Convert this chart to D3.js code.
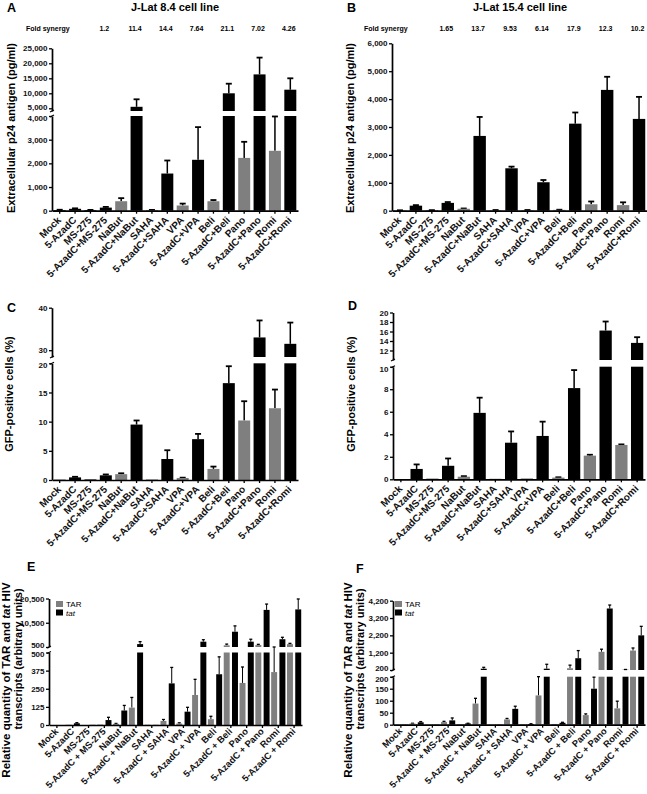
<!DOCTYPE html>
<html><head><meta charset="utf-8">
<script src="https://cdn.jsdelivr.net/npm/d3@7"></script>
<style>
body{margin:0;background:#fff}
svg{display:block}
text{font-family:"Liberation Sans",Arial,Helvetica,sans-serif}
</style>
</head><body>
<svg id="chart" width="647" height="794"></svg>
<script>
// ---------------- DATA ----------------
const categoriesAD = ["Mock","5-AzadC","MS-275","5-AzadC+MS-275","NaBut","5-AzadC+NaBut","SAHA","5-AzadC+SAHA","VPA","5-AzadC+VPA","Beli","5-AzadC+Beli","Pano","5-AzadC+Pano","Romi","5-AzadC+Romi"];
const categoriesEF = ["Mock","5-AzadC","MS-275","5-AzadC + MS-275","NaBut","5-AzadC + NaBut","SAHA","5-AzadC + SAHA","VPA","5-AzadC + VPA","Beli","5-AzadC + Beli","Pano","5-AzadC + Pano","Romi","5-AzadC + Romi"];
const singleHDACi = ["NaBut","SAHA","VPA","Beli","Pano","Romi"];

const p24_JLat84 = [30, 80, 30, 130, 400, 5500, 30, 1570, 220, 2150, 400, 10000, 2230, 16300, 2530, 11200];
const p24_JLat84_err = [10, 20, 5, 30, 130, 2500, 5, 550, 80, 1380, 50, 3200, 680, 5600, 1450, 3800];
const p24_JLat154 = [10, 180, 15, 280, 70, 2680, 20, 1520, 20, 1020, 30, 3120, 230, 4330, 200, 3290];
const p24_JLat154_err = [5, 20, 5, 30, 10, 680, 5, 60, 5, 80, 5, 400, 100, 470, 100, 790];

const gfp_JLat84 = [0.05, 0.45, 0.1, 0.8, 1.0, 9.5, 0.1, 3.6, 0.35, 7.0, 1.9, 16.6, 10.2, 33, 12.3, 31.5];
const gfp_JLat84_err = [0, 0.1, 0, 0.15, 0.15, 0.7, 0, 1.5, 0.05, 0.9, 0.4, 2.9, 3.3, 4, 3.2, 5];
const gfp_JLat154 = [0.02, 0.92, 0.05, 1.2, 0.23, 5.9, 0.05, 3.25, 0.08, 3.85, 0.15, 8.1, 2.1, 16.2, 3.05, 13.6];
const gfp_JLat154_err = [0, 0.4, 0, 0.65, 0.05, 1.35, 0, 1.0, 0, 1.27, 0.03, 1.6, 0.08, 1.9, 0.05, 1.2];

const TAR_JLat84 = [0, 2, 0, 3, 8, 120, 2, 28, 10, 207, 40, 1200, 290, 1300, 365, 1700];
const TAR_JLat84_err = [0, 0, 0, 0, 3, 70, 0, 10, 5, 108, 20, 500, 110, 300, 140, 300];
const tat_JLat84 = [0, 12, 1, 34, 100, 1700, 1, 287, 92, 2700, 350, 6800, 2700, 15800, 3700, 16000];
const tat_JLat84_err = [0, 4, 0, 19, 35, 1000, 0, 110, 30, 800, 120, 2400, 1000, 2400, 800, 4300];

const TAR_JLat154 = [1, 5, 1, 11, 2, 88, 1, 22, 2, 122, 3, 300, 40, 1250, 68, 1320];
const TAR_JLat154_err = [0, 1, 0, 3, 0, 22, 0, 4, 0, 78, 0, 180, 5, 150, 30, 150];
const tat_JLat154 = [1, 10, 1, 18, 5, 275, 1, 66, 3, 275, 8, 880, 150, 3750, 215, 2200];
const tat_JLat154_err = [0, 3, 0, 10, 1, 80, 0, 11, 1, 255, 2, 440, 48, 200, 15, 520];

const combos = ["5-AzadC+MS-275","5-AzadC+NaBut","5-AzadC+SAHA","5-AzadC+VPA","5-AzadC+Beli","5-AzadC+Pano","5-AzadC+Romi"];
const foldSynergy84 = ["1.2","11.4","14.4","7.64","21.1","7.02","4.26"];
const foldSynergy154 = ["1.65","13.7","9.53","6.14","17.9","12.3","10.2"];

const ticksA_low = [0,1000,2000,3000,4000], ticksA_up = [5000,10000,15000,20000,25000];
const ticksB = [0,1000,2000,3000,4000,5000,6000];
const ticksC_low = [0,5,10,15,20], ticksC_up = [30,40];
const ticksD_low = [0,2,4,6,8,10], ticksD_up = [12,14,16,18,20];
const ticksE_low = [0,125,250,375,500], ticksE_up = [500,10500,20500];
const ticksF_low = [0,50,100,150,200], ticksF_up = [200,1200,2200,3200,4200];

// ---------------- DRAWING ----------------
const svg = d3.select("#chart");
const BLACK = "#000", GREY = "#7f7f7f";
const comma = d3.format(",");
const FF = '"Liberation Sans",Arial,sans-serif';

function makePos(seg){
  const lo = d3.scaleLinear().domain(seg.lower.domain).range(seg.lower.range);
  const up = seg.upper ? d3.scaleLinear().domain(seg.upper.domain).range(seg.upper.range) : null;
  const Lmax = seg.lower.domain[1];
  function pos(v){
    if(!up || v <= Lmax) return lo(Math.min(v, Lmax));
    if(v < seg.upper.domain[0]) return lo(Lmax);
    return up(v);
  }
  return {lo, up, pos, Lmax};
}

function drawBar(sc, cx, w, v, fill){
  const base = sc.lo(0);
  const topLo = sc.lo(Math.min(v, sc.Lmax));
  svg.append("rect").attr("x", cx - w/2).attr("y", topLo).attr("width", w)
     .attr("height", Math.max(0, base - topLo)).attr("fill", fill);
  if(sc.up && v > sc.Lmax){
    const y0 = sc.up.range()[0];
    const y1 = sc.up(v);
    svg.append("rect").attr("x", cx - w/2).attr("y", y1).attr("width", w)
       .attr("height", Math.max(0, y0 - y1)).attr("fill", fill);
  }
}
function drawErr(sc, cx, v, e, capW, sw){
  if(!(e > 0)) return;
  const y0 = sc.pos(v), y1 = sc.pos(v + e);
  svg.append("line").attr("x1", cx).attr("x2", cx).attr("y1", y0).attr("y2", y1)
     .attr("stroke", BLACK).attr("stroke-width", sw);
  svg.append("line").attr("x1", cx - capW/2).attr("x2", cx + capW/2).attr("y1", y1).attr("y2", y1)
     .attr("stroke", BLACK).attr("stroke-width", sw + 0.3);
}

function drawYAxis(sc, x0, tl, tu, fmt){
  const g1 = svg.append("g").attr("transform", `translate(${x0},0)`)
    .call(d3.axisLeft(sc.lo).tickValues(tl).tickFormat(fmt).tickSize(3).tickSizeOuter(0));
  const gs = [g1];
  if(sc.up){
    const g2 = svg.append("g").attr("transform", `translate(${x0},0)`)
      .call(d3.axisLeft(sc.up).tickValues(tu).tickFormat(fmt).tickSize(3).tickSizeOuter(0));
    gs.push(g2);
    const yb1 = sc.lo.range()[1], yb2 = sc.up.range()[0];
    [yb1, yb2].forEach(y => {
      svg.append("line").attr("x1", x0 - 2).attr("x2", x0 + 2).attr("y1", y + 1).attr("y2", y - 1)
        .attr("stroke", BLACK).attr("stroke-width", 1.2);
    });
    g1.selectAll(".tick text").filter(d => d === sc.Lmax).attr("dy", "0.55em");
    g2.selectAll(".tick text").filter(d => Math.abs(sc.up(d) - sc.up.range()[0]) < 4).attr("dy", "0.1em");
  }
  gs.forEach(g => {
    g.select(".domain").attr("stroke-width", 1.7);
    g.selectAll(".tick line").attr("stroke-width", 1.3);
    g.selectAll(".tick text").attr("font-size", 8).attr("font-weight", "bold")
      .attr("font-family", FF).attr("fill", "#111").attr("x", -4.5);
  });
}

function drawXAxis(x, y0, fontSize, offY){
  const g = svg.append("g").attr("transform", `translate(0,${y0})`)
    .call(d3.axisBottom(x).tickSize(3).tickSizeOuter(0));
  g.select(".domain").attr("stroke-width", 1.7);
  g.selectAll(".tick line").attr("stroke-width", 1.3);
  g.selectAll(".tick text").attr("font-size", fontSize).attr("font-weight", "bold")
    .attr("font-family", FF).attr("fill", "#111")
    .attr("x", 0).attr("y", 0).attr("dy", 0)
    .attr("text-anchor", "end").attr("transform", `translate(2,${offY}) rotate(-45)`);
}

function yLabel(x, y, txt, size){
  svg.append("text").attr("transform", `translate(${x},${y}) rotate(-90)`)
    .attr("text-anchor", "middle").attr("font-size", size).attr("font-weight", "bold").text(txt);
}
function panelLetter(x, y, t){
  svg.append("text").attr("x", x).attr("y", y).attr("font-size", 12.5).attr("font-weight", "bold").text(t);
}

function singlePanel(cfg){
  const x = d3.scaleBand().domain(categoriesAD).range(cfg.xRange).paddingInner(0.22).paddingOuter(0.11);
  const sc = makePos(cfg.seg);
  categoriesAD.forEach((c, i) => {
    const cx = x(c) + x.bandwidth()/2;
    const fill = singleHDACi.includes(c) ? GREY : BLACK;
    drawErr(sc, cx, cfg.values[i], cfg.errors[i], 6, 1.5);
    drawBar(sc, cx, x.bandwidth(), cfg.values[i], fill);
  });
  drawYAxis(sc, cfg.xRange[0], cfg.tl, cfg.tu, cfg.fmt);
  drawXAxis(x, sc.lo(0), 10, 10);
  return x;
}

function pairedPanel(cfg){
  const x = d3.scaleBand().domain(categoriesEF).range(cfg.xRange).paddingInner(0.1).paddingOuter(0.05);
  const xi = d3.scaleBand().domain(["TAR","tat"]).range([0, x.bandwidth()]).paddingInner(0.28);
  const sc = makePos(cfg.seg);
  categoriesEF.forEach((c, i) => {
    const cT = x(c) + xi("TAR") + xi.bandwidth()/2;
    const ct = x(c) + xi("tat") + xi.bandwidth()/2;
    drawErr(sc, cT, cfg.tar[i], cfg.tarErr[i], 3, 1);
    drawErr(sc, ct, cfg.tat[i], cfg.tatErr[i], 3, 1);
    drawBar(sc, cT, xi.bandwidth(), cfg.tar[i], GREY);
    drawBar(sc, ct, xi.bandwidth(), cfg.tat[i], BLACK);
  });
  drawYAxis(sc, cfg.xRange[0], cfg.tl, cfg.tu, comma);
  drawXAxis(x, sc.lo(0), 9.3, 7);
  const lx = cfg.legendX, ly = cfg.legendY;
  svg.append("rect").attr("x", lx).attr("y", ly).attr("width", 7).attr("height", 6).attr("fill", GREY);
  svg.append("rect").attr("x", lx).attr("y", ly + 8.5).attr("width", 7).attr("height", 6).attr("fill", BLACK);
  svg.append("text").attr("x", lx + 10).attr("y", ly + 6).attr("font-size", 8).text("TAR");
  svg.append("text").attr("x", lx + 10).attr("y", ly + 14.5).attr("font-size", 8).attr("font-style", "italic").text("tat");
  const t1 = svg.append("text").attr("transform", `translate(${cfg.lab1[0]},${cfg.lab1[1]}) rotate(-90)`)
    .attr("text-anchor", "middle").attr("font-size", 11.5).attr("font-weight", "bold");
  t1.append("tspan").text("Relative quantity of TAR and ");
  t1.append("tspan").attr("font-style", "italic").text("tat");
  t1.append("tspan").text(" HIV");
  svg.append("text").attr("transform", `translate(${cfg.lab2[0]},${cfg.lab2[1]}) rotate(-90)`)
    .attr("text-anchor", "middle").attr("font-size", 11).attr("font-weight", "bold")
    .text("transcripts (arbitrary units)");
}

function foldRow(x, labelX, y, vals){
  svg.append("text").attr("x", labelX).attr("y", y).attr("font-size", 7).attr("font-weight", "bold").text("Fold synergy");
  combos.forEach((c, i) => {
    svg.append("text").attr("x", x(c) + x.bandwidth()/2 - 1.5).attr("y", y).attr("text-anchor", "middle")
      .attr("font-size", 7).attr("font-weight", "bold").text(vals[i]);
  });
}

// Titles
svg.append("text").attr("x", 175).attr("y", 11).attr("text-anchor", "middle").attr("font-size", 11).attr("font-weight", "bold").text("J-Lat 8.4 cell line");
svg.append("text").attr("x", 520).attr("y", 11).attr("text-anchor", "middle").attr("font-size", 11).attr("font-weight", "bold").text("J-Lat 15.4 cell line");

// Panel A
const xA = singlePanel({
  xRange: [52, 298],
  seg: {lower: {domain: [0, 4000], range: [210.7, 116]}, upper: {domain: [4100, 25000], range: [111, 48.3]}},
  values: p24_JLat84, errors: p24_JLat84_err, tl: ticksA_low, tu: ticksA_up, fmt: comma
});
foldRow(xA, 26, 31, foldSynergy84);
yLabel(15, 128, "Extracellular p24 antigen (pg/ml)", 11);
panelLetter(7, 12, "A");

// Panel B
const xB = singlePanel({
  xRange: [392, 647],
  seg: {lower: {domain: [0, 6000], range: [210.7, 43.3]}, upper: null},
  values: p24_JLat154, errors: p24_JLat154_err, tl: ticksB, tu: [], fmt: comma
});
foldRow(xB, 364, 31, foldSynergy154);
yLabel(354, 128, "Extracellular p24 antigen (pg/ml)", 11);
panelLetter(347, 12, "B");

// Panel C
singlePanel({
  xRange: [52, 298],
  seg: {lower: {domain: [0, 20], range: [480, 363.3]}, upper: {domain: [28.4, 40], range: [357, 307.7]}},
  values: gfp_JLat84, errors: gfp_JLat84_err, tl: ticksC_low, tu: ticksC_up, fmt: d3.format("d")
});
yLabel(13, 394, "GFP-positive cells (%)", 11);
panelLetter(7, 312, "C");

// Panel D
singlePanel({
  xRange: [393, 645],
  seg: {lower: {domain: [0, 10], range: [479.3, 366.7]}, upper: {domain: [10, 20], range: [360, 312.5]}},
  values: gfp_JLat154, errors: gfp_JLat154_err, tl: ticksD_low, tu: ticksD_up, fmt: d3.format("d")
});
yLabel(355, 394, "GFP-positive cells (%)", 11);
panelLetter(348, 310, "D");

// Panel E
pairedPanel({
  xRange: [49, 302],
  seg: {lower: {domain: [0, 500], range: [725, 652.5]}, upper: {domain: [500, 20500], range: [647, 598.5]}},
  tar: TAR_JLat84, tarErr: TAR_JLat84_err, tat: tat_JLat84, tatErr: tat_JLat84_err,
  tl: ticksE_low, tu: ticksE_up, legendX: 56, legendY: 601, lab1: [10, 680], lab2: [22, 659]
});
panelLetter(27, 571, "E");

// Panel F
pairedPanel({
  xRange: [393, 645],
  seg: {lower: {domain: [0, 200], range: [724.7, 676.7]}, upper: {domain: [200, 4200], range: [670, 600.7]}},
  tar: TAR_JLat154, tarErr: TAR_JLat154_err, tat: tat_JLat154, tatErr: tat_JLat154_err,
  tl: ticksF_low, tu: ticksF_up, legendX: 395, legendY: 601, lab1: [352, 680], lab2: [364, 659]
});
panelLetter(356, 573, "F");
</script>
</body></html>
